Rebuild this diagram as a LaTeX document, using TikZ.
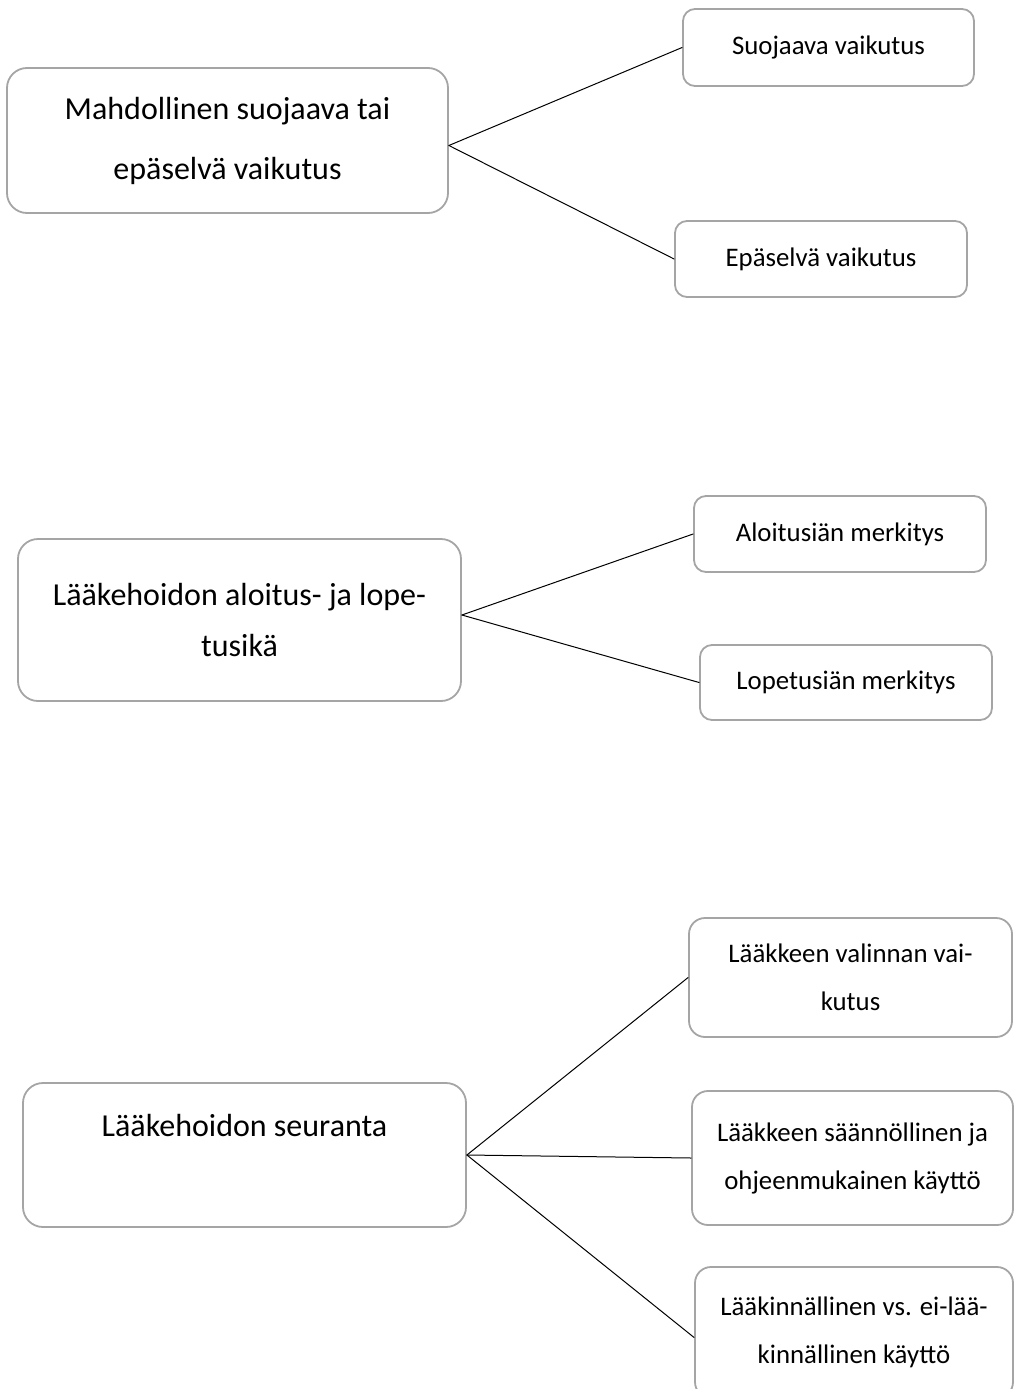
\documentclass[tikz,border=0pt]{standalone}
\usepackage{fontspec}
\setmainfont{Carlito}
\definecolor{boxgray}{RGB}{165,165,165}

\begin{document}
\begin{tikzpicture}[
    x=1pt, y=-1pt,
    line cap=round,
    line join=round,
    box/.style={draw=boxgray, line width=1.8pt, rounded corners=12pt,
                inner sep=0pt, align=center, text=black},
    mainbox/.style={box, rounded corners=20pt, font=\fontsize{32}{60}\selectfont},
    subbox/.style={box, font=\fontsize{26.8}{48}\selectfont},
    link/.style={line width=1pt}
]
\useasboundingbox (0,0) rectangle (1014,1389);

% -------------------------------------------------
% Ryhmä 1: suojaava tai epäselvä vaikutus
% -------------------------------------------------
\node[mainbox, minimum width=441pt, minimum height=145pt] (A) at (227.5,140.5)
    {Mahdollinen suojaava tai\\epäselvä vaikutus};
\node[subbox, minimum width=291pt, minimum height=77pt] (A1) at (828.5,47.5)
    {Suojaava vaikutus};
\node[subbox, minimum width=292pt, minimum height=76pt] (A2) at (821,259)
    {Epäselvä vaikutus};

\draw[link] ([yshift=-5pt]A.east) -- (A1.west);
\draw[link] ([yshift=-5pt]A.east) -- (A2.west);

% -------------------------------------------------
% Ryhmä 2: aloitus- ja lopetusikä
% -------------------------------------------------
\node[mainbox, minimum width=443pt, minimum height=162pt,
      font=\fontsize{32}{51}\selectfont] (B) at (239.5,620)
    {Lääkehoidon aloitus- ja lope-\\tusikä};
\node[subbox, minimum width=292pt, minimum height=76pt] (B1) at (840,534)
    {Aloitusiän merkitys};
\node[subbox, minimum width=292pt, minimum height=75pt] (B2) at (846,682.5)
    {Lopetusiän merkitys};

\draw[link] ([yshift=5pt]B.east) -- (B1.west);
\draw[link] ([yshift=5pt]B.east) -- (B2.west);

% -------------------------------------------------
% Ryhmä 3: seuranta
% -------------------------------------------------
\node[mainbox, minimum width=443pt, minimum height=144pt] (C) at (244.5,1155)
    {Lääkehoidon seuranta\\\mbox{}};
\node[subbox, minimum width=323pt, minimum height=119pt, rounded corners=16pt] (C1) at (850.5,977.5)
    {Lääkkeen valinnan vai-\\kutus};
\node[subbox, minimum width=321pt, minimum height=134pt, rounded corners=16pt] (C2) at (852.5,1158)
    {Lääkkeen säännöllinen ja\\ohjeenmukainen käyttö};
\node[subbox, minimum width=318pt, minimum height=131pt, rounded corners=16pt] (C3) at (854,1332.5)
    {Lääkinnällinen vs. ei-lää-\\kinnällinen käyttö};

\draw[link] (C.east) -- (C1.west);
\draw[link] (C.east) -- (C2.west);
\draw[link] (C.east) -- ([yshift=-5pt]C3.west);

\end{tikzpicture}
\end{document}
